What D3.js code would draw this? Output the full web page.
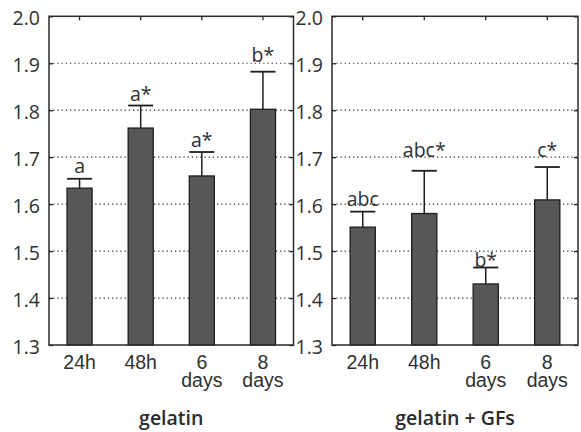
<!DOCTYPE html>
<html>
<head>
<meta charset="utf-8">
<script src="https://cdn.jsdelivr.net/npm/d3@7"></script>
<style>
  html, body { margin: 0; padding: 0; background: #fff; }
  svg { display: block; font-family: "Open Sans", "Noto Sans", sans-serif; }
</style>
</head>
<body>
<svg id="chart" width="581" height="432"></svg>
<script>
// Time points shared by both groups
const categories = ["24h", "48h", "6 days", "8 days"];

// gelatin group: means, upper error limits and significance letters
const gelatinMeans = [1.634, 1.762, 1.660, 1.802];
const gelatinUpper = [1.654, 1.810, 1.711, 1.882];
const gelatinMarks = ["a", "a*", "a*", "b*"];
const gelatinMarkAt = [1.666, 1.820, 1.721, 1.903];

// gelatin + GFs group
const gfMeans = [1.551, 1.580, 1.430, 1.609];
const gfUpper = [1.584, 1.671, 1.465, 1.679];
const gfMarks = ["abc", "abc*", "b*", "c*"];
const gfMarkAt = [1.595, 1.701, 1.467, 1.701];

const yTicks = [1.3, 1.4, 1.5, 1.6, 1.7, 1.8, 1.9, 2.0];
const panelTitles = ["gelatin", "gelatin + GFs"];

const panels = [
  { title: panelTitles[0], means: gelatinMeans, upper: gelatinUpper, marks: gelatinMarks, markAt: gelatinMarkAt, left: 49, width: 244.5 },
  { title: panelTitles[1], means: gfMeans, upper: gfUpper, marks: gfMarks, markAt: gfMarkAt, left: 332, width: 246 }
];

const svg = d3.select("#chart");
const plotTop = 16.3, plotBottom = 345;
const textColor = "#303030";
const fontSize = 19.5;

const y = d3.scaleLinear().domain([1.3, 2.0]).range([plotBottom - plotTop, 0]);

panels.forEach(p => {
  const h = plotBottom - plotTop;
  const g = svg.append("g").attr("transform", `translate(${p.left},${plotTop})`);
  const x = d3.scaleBand().domain(categories).range([0, p.width])
    .paddingInner(0.59).paddingOuter(0.295);

  // dotted horizontal grid
  g.append("g").selectAll("line")
    .data(yTicks.filter(t => t > 1.3 && t < 2.0))
    .join("line")
    .attr("x1", 0).attr("x2", p.width)
    .attr("y1", d => y(d)).attr("y2", d => y(d))
    .attr("stroke", "#333").attr("stroke-width", 1.2)
    .attr("stroke-dasharray", "1.3,2.9");

  // bars
  g.append("g").selectAll("rect")
    .data(p.means)
    .join("rect")
    .attr("x", (d, i) => x(categories[i]))
    .attr("width", x.bandwidth())
    .attr("y", d => y(d))
    .attr("height", d => h - y(d))
    .attr("fill", "#575757")
    .attr("stroke", "#1e1e1e").attr("stroke-width", 1.3);

  // upper error bars with caps
  const err = g.append("g").attr("stroke", "#1e1e1e").attr("stroke-width", 1.5);
  p.means.forEach((m, i) => {
    const cx = x(categories[i]) + x.bandwidth() / 2;
    err.append("line").attr("x1", cx).attr("x2", cx).attr("y1", y(m)).attr("y2", y(p.upper[i]));
    err.append("line").attr("x1", x(categories[i])).attr("x2", x(categories[i]) + x.bandwidth())
      .attr("y1", y(p.upper[i])).attr("y2", y(p.upper[i])).attr("stroke-width", 1.8);
  });

  // significance letters
  g.append("g").selectAll("text")
    .data(p.marks)
    .join("text")
    .attr("x", (d, i) => x(categories[i]) + x.bandwidth() / 2)
    .attr("y", (d, i) => y(p.markAt[i]))
    .attr("text-anchor", "middle")
    .attr("font-size", fontSize)
    .attr("fill", textColor)
    .text(d => d);

  // y axis labels and inward ticks on both sides
  const yAxisL = d3.axisLeft(y).tickValues(yTicks).tickFormat(d3.format(".1f")).tickSizeInner(-4).tickSizeOuter(0).tickPadding(9);
  const ga = g.append("g").call(yAxisL);
  ga.select(".domain").remove();
  ga.selectAll("line").attr("stroke", "#222").attr("stroke-width", 1.3);
  ga.selectAll("text").attr("font-size", fontSize)
    .attr("fill", textColor).attr("font-family", "Open Sans, sans-serif").attr("dy", "0.42em");

  const yAxisR = d3.axisRight(y).tickValues(yTicks).tickSizeInner(-4).tickSizeOuter(0).tickFormat("");
  const gr = g.append("g").attr("transform", `translate(${p.width},0)`).call(yAxisR);
  gr.select(".domain").remove();
  gr.selectAll("line").attr("stroke", "#222").attr("stroke-width", 1.3);

  // top ticks at category centres
  const xTop = d3.axisTop(x).tickSizeInner(-4).tickSizeOuter(0).tickFormat("");
  const gt = g.append("g").call(xTop);
  gt.select(".domain").remove();
  gt.selectAll("line").attr("stroke", "#222").attr("stroke-width", 1.3);

  // bottom category labels (two lines where needed)
  const xBottom = d3.axisBottom(x).tickSize(0).tickPadding(0).tickFormat("");
  const gb = g.append("g").attr("transform", `translate(0,${h})`).call(xBottom);
  gb.select(".domain").remove();
  gb.selectAll(".tick").each(function(d) {
    const t = d3.select(this).append("text")
      .attr("text-anchor", "middle")
      .attr("font-size", fontSize)
      .attr("fill", textColor);
    d.split(" ").forEach((part, k) => {
      t.append("tspan").attr("x", 0).attr("y", 24 + k * 18).text(part);
    });
  });

  // frame
  g.append("rect").attr("x", 0).attr("y", 0).attr("width", p.width).attr("height", h)
    .attr("fill", "none").attr("stroke", "#2a2a2a").attr("stroke-width", 1.5);

  // panel title
  g.append("text")
    .attr("x", p.width / 2).attr("y", 425.5 - plotTop)
    .attr("text-anchor", "middle")
    .attr("font-size", 19.5).attr("font-weight", 600)
    .attr("fill", "#2a2a2a")
    .text(p.title);
});
</script>
</body>
</html>
